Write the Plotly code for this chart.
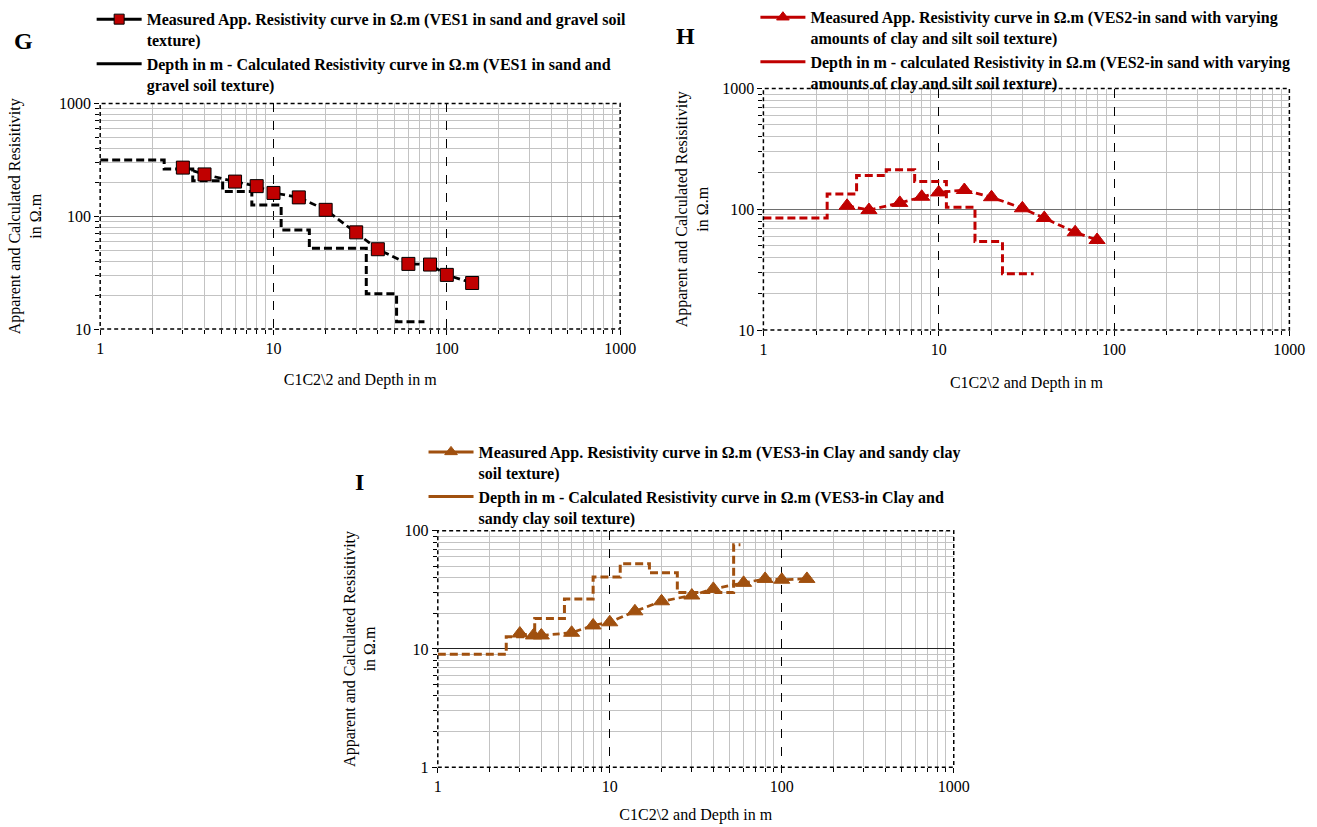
import plotly.graph_objects as go

# ---------------- DATA ----------------
# Panel G - VES1
ves1_ab2 = [3, 4, 6, 8, 10, 14, 20, 30, 40, 60, 80, 100, 140]
ves1_rho_a = [270, 235, 203, 185, 161, 147, 114, 72, 51, 37.8, 37.3, 30.2, 25.6]
ves1_depth = [1, 2.34, 3.42, 5.09, 7.5, 11.07, 16.1, 34.3, 51.3, 74.3]
ves1_rho = [315, 262, 207, 166, 126, 75.7, 52, 20.5, 11.6, 11.6]

# Panel H - VES2
ves2_ab2 = [3, 4, 6, 8, 10, 14, 20, 30, 40, 60, 80]
ves2_rho_a = [107, 98.6, 113, 127, 138, 144.5, 126, 102, 84.7, 64.6, 55.7]
ves2_depth = [1, 2.31, 3.4, 5.02, 7.29, 11.06, 16.1, 23.1, 34.8]
ves2_rho = [84.7, 134, 191, 213, 170, 104, 54, 29.2, 29.2]

# Panel I - VES3
ves3_ab2 = [3, 3.6, 4, 6, 8, 10, 14, 20, 30, 40, 60, 80, 100, 140]
ves3_rho_a = [13.5, 13.0, 13.0, 13.7, 15.8, 16.8, 20.8, 25.3, 28.3, 32.2, 36.2, 39.1, 38.5, 39.1]
ves3_depth = [1, 2.5, 3.66, 5.45, 8.0, 11.5, 17.0, 24.7, 52.5, 57.5]
ves3_rho = [9.0, 12.7, 18.1, 26.5, 40.6, 52.6, 44, 30, 76, 76]

leg_g = ["Measured App. Resistivity curve in Ω.m (VES1 in sand and gravel soil<br>texture)",
         "Depth in m - Calculated Resistivity curve in Ω.m (VES1 in sand and<br>gravel soil texture)"]
leg_h = ["Measured App. Resistivity curve in Ω.m (VES2-in sand with varying<br>amounts of clay and silt soil texture)",
         "Depth in m - calculated Resistivity in Ω.m (VES2-in sand with varying<br>amounts of clay and silt soil texture)"]
leg_i = ["Measured App. Resistivity curve in Ω.m (VES3-in Clay and sandy clay<br>soil texture)",
         "Depth in m - Calculated Resistivity curve in Ω.m (VES3-in Clay and<br>sandy clay soil texture)"]

x_title = "C1C2\\2 and Depth in m"
y_title = "Apparent and Calculated Resisitivity<br>in Ω.m"

# ---------------- STYLE ----------------
W, H = 1317, 827
FONT = "Liberation Serif"
BLACK = "#000000"
RED = "#C00000"
BROWN = "#A0500F"
MEAS_DASH = "7px,4px"
CALC_DASH = "8px,4px"
MINOR_GRID = "#C3C3C3"


def cx(px):
    return (px - 5) / 0.983


def cy(py):
    return (py - 7.9) / 0.981


def px_x(a, b):
    return [cx(a) / W, cx(b) / W]


def px_y(top, bottom):
    return [1 - cy(bottom) / H, 1 - cy(top) / H]


fig = go.Figure()

panels = [
    dict(xa="x", ya="y", leg="legend", ab=ves1_ab2, ra=ves1_rho_a, d=ves1_depth, r=ves1_rho,
         lc=BLACK, mc=RED, ml=BLACK, sym="square", ms=13, names=leg_g, calc_c=BLACK),
    dict(xa="x2", ya="y2", leg="legend2", ab=ves2_ab2, ra=ves2_rho_a, d=ves2_depth, r=ves2_rho,
         lc=RED, mc=RED, ml=RED, sym="triangle-up", ms=14, names=leg_h, calc_c=RED),
    dict(xa="x3", ya="y3", leg="legend3", ab=ves3_ab2, ra=ves3_rho_a, d=ves3_depth, r=ves3_rho,
         lc=BROWN, mc=BROWN, ml=BROWN, sym="triangle-up", ms=14, names=leg_i, calc_c=BROWN),
]

for p in panels:
    # calculated step curve
    fig.add_trace(go.Scatter(x=p["d"], y=p["r"], mode="lines", line_shape="hv",
                             line=dict(color=p["calc_c"], width=3, dash=CALC_DASH),
                             xaxis=p["xa"], yaxis=p["ya"], showlegend=False))
    # measured curve
    fig.add_trace(go.Scatter(x=p["ab"], y=p["ra"], mode="lines+markers",
                             line=dict(color=p["lc"], width=2.75, dash=MEAS_DASH),
                             marker=dict(symbol=p["sym"], size=p["ms"], color=p["mc"],
                                         line=dict(color=p["ml"], width=1)),
                             xaxis=p["xa"], yaxis=p["ya"], showlegend=False))
    # legend proxies (solid lines as in the reference legend)
    fig.add_trace(go.Scatter(x=[None], y=[None], mode="lines+markers", name=p["names"][0],
                             line=dict(color=p["lc"], width=3),
                             marker=dict(symbol=p["sym"], size=p["ms"] - 3, color=p["mc"],
                                         line=dict(color=p["ml"], width=1)),
                             xaxis=p["xa"], yaxis=p["ya"], legend=p["leg"]))
    fig.add_trace(go.Scatter(x=[None], y=[None], mode="lines", name=p["names"][1],
                             line=dict(color=p["calc_c"], width=3),
                             xaxis=p["xa"], yaxis=p["ya"], legend=p["leg"]))


def xaxis(domain, anchor, standoff):
    return dict(type="log", range=[0, 3], domain=domain, anchor=anchor,
                dtick=1, tickformat="d",
                showgrid=True, gridcolor=BLACK, griddash="dash", gridwidth=1,
                ticks="outside", ticklen=5, tickcolor=BLACK,
                minor=dict(dtick="D1", ticks="outside", ticklen=4, tickcolor=BLACK,
                           showgrid=True, gridcolor=MINOR_GRID, gridwidth=1, griddash="solid"),
                showline=False, zeroline=False,
                tickfont=dict(family=FONT, size=16, color=BLACK),
                title=dict(text=x_title, font=dict(family=FONT, size=16, color=BLACK), standoff=standoff))


def yaxis(domain, anchor, rng, gridc, standoff):
    return dict(type="log", range=rng, domain=domain, anchor=anchor,
                dtick=1, tickformat="d",
                showgrid=True, gridcolor=gridc, gridwidth=1,
                ticks="outside", ticklen=5, tickcolor=BLACK,
                minor=dict(dtick="D1", ticks="outside", ticklen=4, tickcolor=BLACK,
                           showgrid=True, gridcolor=MINOR_GRID, gridwidth=1, griddash="solid"),
                showline=False, zeroline=False,
                tickfont=dict(family=FONT, size=16, color=BLACK),
                title=dict(text=y_title, font=dict(family=FONT, size=16, color=BLACK), standoff=standoff))


legend_common = dict(font=dict(family=FONT, size=16, color=BLACK, weight="bold"),
                     bgcolor="rgba(0,0,0,0)", valign="top", xanchor="left", yanchor="top",
                     itemwidth=45, itemclick=False, itemdoubleclick=False, tracegroupgap=2)

fig.update_layout(
    width=W, height=H, margin=dict(l=0, r=0, t=0, b=0),
    paper_bgcolor="white", plot_bgcolor="white",
    font=dict(family=FONT, color=BLACK),
    xaxis=xaxis(px_x(101, 620), "y", 17),
    yaxis=yaxis(px_y(100, 327), "x", [1, 3], "#6E6E6E", 13),
    xaxis2=xaxis(px_x(763, 1288), "y2", 19),
    yaxis2=yaxis(px_y(85, 328), "x2", [1, 3], "#6E6E6E", 9),
    xaxis3=xaxis(px_x(438, 953), "y3", 14),
    yaxis3=yaxis(px_y(530, 768), "x3", [0, 2], "#222222", 24),
    legend=dict(x=89 / W, y=1 + 10 / H, **legend_common),
    legend2=dict(x=763 / W, y=1 + 12 / H, **legend_common),
    legend3=dict(x=426 / W, y=1 - 434 / H, **legend_common),
    showlegend=True,
)

# dashed plot-area borders
for xr, yr in [("x", "y"), ("x2", "y2"), ("x3", "y3")]:
    fig.add_shape(type="rect", xref=f"{xr} domain", yref=f"{yr} domain",
                  x0=0, x1=1, y0=0, y1=1, line=dict(color=BLACK, width=1.5, dash="4px,3px"),
                  layer="above")

# panel letters
for txt, xpx, ypx in [("G", 24, 37), ("H", 685, 32), ("I", 360, 481)]:
    fig.add_annotation(text=f"<b>{txt}</b>", x=cx(xpx) / W, y=1 - cy(ypx) / H,
                       xref="paper", yref="paper", xanchor="center", yanchor="middle",
                       showarrow=False, font=dict(family=FONT, size=24, color=BLACK))

fig.write_html("out.html")
